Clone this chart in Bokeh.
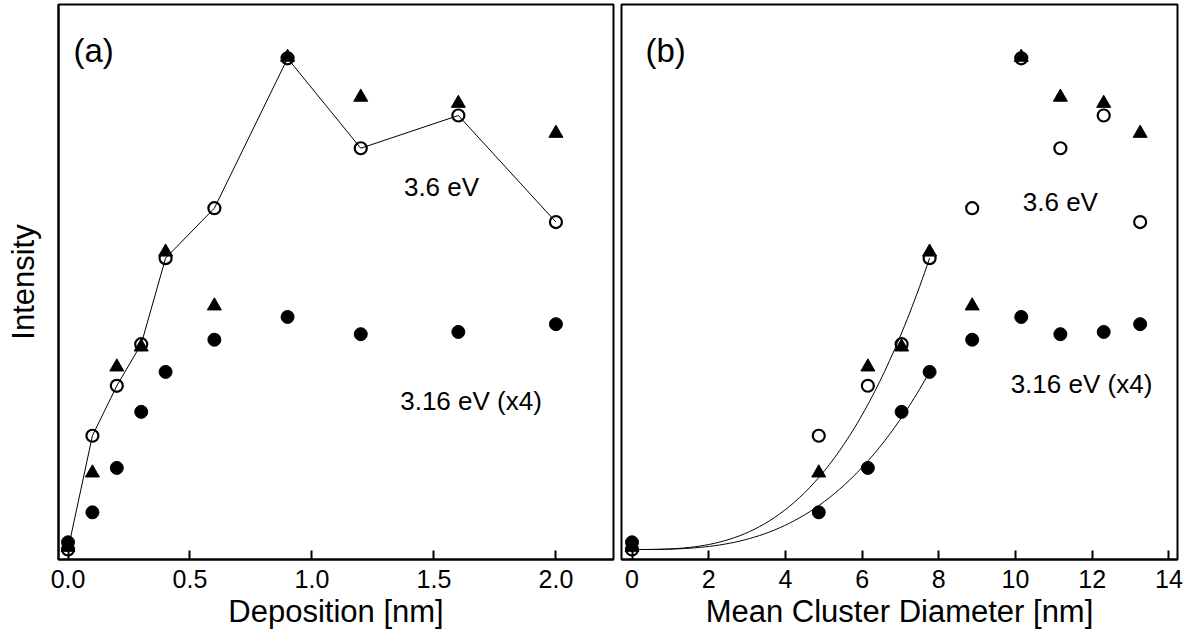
from bokeh.plotting import figure
from bokeh.layouts import row
from bokeh.models import Range1d, Label, FixedTicker, NumeralTickFormatter
from bokeh.embed import file_html
from bokeh.resources import INLINE
import numpy as np

FONT = "Liberation Sans"

# Sample series: deposition thickness and corresponding mean cluster diameter
deposition_nm = [0.0, 0.1, 0.2, 0.3, 0.4, 0.6, 0.9, 1.2, 1.6, 2.0]
diameter_nm = [0.0, 4.87, 6.15, 7.03, 7.76, 8.87, 10.15, 11.17, 12.3, 13.25]

# Intensities (arbitrary units)
intensity_36_open = [1.8, 22.3, 31.3, 38.8, 54.3, 63.3, 90.3, 74.1, 80.0, 60.8]
intensity_36_tri = [2.2, 15.6, 34.7, 38.3, 55.4, 45.7, 90.5, 83.3, 82.2, 76.8]
intensity_316_x4 = [3.1, 8.5, 16.5, 26.6, 33.8, 39.6, 43.7, 40.6, 41.0, 42.4]

# Cubic (volume-like) fits I = a + b * d^3 for the small-cluster regime
fit_36 = (1.8, 0.1123)
fit_316 = (1.8, 0.0685)
fit_d_max = 7.76

x_ticks_a = [0.0, 0.5, 1.0, 1.5, 2.0]
x_ticks_b = [0, 2, 4, 6, 8, 10, 12, 14]

TICK_PX = "25px"
NOTE_PX = "26px"
LABEL_PX = "31px"
PANEL_PX = "33px"


def style_common(p):
    p.grid.visible = False
    p.outline_line_color = "black"
    p.outline_line_width = 2
    p.outline_line_alpha = 1.0
    p.background_fill_color = "white"
    p.border_fill_color = "white"
    ax = p.xaxis[0]
    ax.axis_line_width = 2
    ax.major_tick_in = 9
    ax.major_tick_out = 0
    ax.major_tick_line_width = 2
    ax.minor_tick_line_color = None
    ax.major_label_text_font = FONT
    ax.major_label_text_font_size = TICK_PX
    ax.major_label_text_color = "black"
    ax.major_label_standoff = 10
    ax.axis_label_text_font = FONT
    ax.axis_label_text_font_size = LABEL_PX
    ax.axis_label_text_font_style = "normal"
    ax.axis_label_text_color = "black"
    ax.axis_label_standoff = 3


def draw_points(p, xs):
    p.scatter(xs, intensity_36_tri, marker="triangle", size=14,
              fill_color="black", line_color="black")
    p.scatter(xs, intensity_316_x4, marker="circle", size=13,
              fill_color="black", line_color="black")
    p.scatter(xs, intensity_36_open, marker="circle", size=12,
              fill_color=None, line_color="black", line_width=2.2)


def add_text(p, x, y, text, size, align="center"):
    p.add_layout(Label(x=x, y=y, text=text, text_font=FONT,
                       text_font_size=size, text_align=align,
                       text_baseline="middle", text_color="black"))


# Panel (a): intensity versus deposition
pa = figure(width=615, height=639,
            x_range=Range1d(-0.039, 2.236), y_range=Range1d(0, 100),
            output_backend="svg", toolbar_location=None,
            min_border_left=58, min_border_right=2,
            min_border_top=4, min_border_bottom=80)
style_common(pa)
pa.xaxis[0].ticker = FixedTicker(ticks=x_ticks_a)
pa.xaxis[0].formatter = NumeralTickFormatter(format="0.0")
pa.xaxis[0].axis_label = "Deposition [nm]"
ya = pa.yaxis[0]
ya.ticker = FixedTicker(ticks=[])
ya.axis_line_width = 2
ya.major_tick_in = 0
ya.major_tick_out = 0
ya.minor_tick_line_color = None
ya.axis_label = "Intensity"
ya.axis_label_text_font = FONT
ya.axis_label_text_font_size = LABEL_PX
ya.axis_label_text_font_style = "normal"
ya.axis_label_text_color = "black"
ya.axis_label_standoff = 18

pa.line(deposition_nm, intensity_36_open, line_color="black", line_width=1)
draw_points(pa, deposition_nm)
add_text(pa, 0.0225, 91.7, "(a)", PANEL_PX, align="left")
add_text(pa, 1.531, 67.2, "3.6 eV", NOTE_PX)
add_text(pa, 1.652, 28.6, "3.16 eV (x4)", NOTE_PX)

# Panel (b): intensity versus mean cluster diameter
pb = figure(width=576, height=639,
            x_range=Range1d(-0.274, 14.224), y_range=Range1d(0, 100),
            output_backend="svg", toolbar_location=None,
            y_axis_location=None,
            min_border_left=6, min_border_right=14,
            min_border_top=4, min_border_bottom=80)
style_common(pb)
pb.xaxis[0].ticker = FixedTicker(ticks=x_ticks_b)
pb.xaxis[0].axis_label = "Mean Cluster Diameter [nm]"

d_fit = np.linspace(0.0, fit_d_max, 120)
pb.line(d_fit, fit_36[0] + fit_36[1] * d_fit ** 3, line_color="black", line_width=1)
pb.line(d_fit, fit_316[0] + fit_316[1] * d_fit ** 3, line_color="black", line_width=1)
draw_points(pb, diameter_nm)
add_text(pb, 0.35, 91.7, "(b)", PANEL_PX, align="left")
add_text(pb, 11.17, 64.5, "3.6 eV", NOTE_PX)
add_text(pb, 11.72, 31.7, "3.16 eV (x4)", NOTE_PX)

layout = row(pa, pb, spacing=0)
open("out.html", "w").write(file_html(layout, INLINE))
